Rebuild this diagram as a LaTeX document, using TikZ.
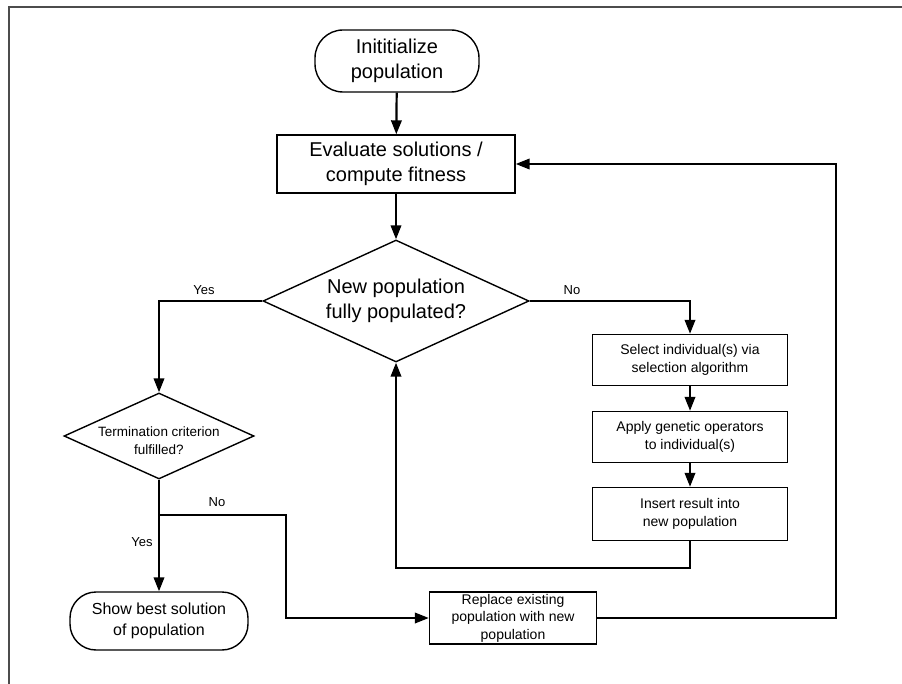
\documentclass[tikz,border=0pt]{standalone}
\usepackage{fontspec}
\setmainfont{Liberation Sans}
\usetikzlibrary{shapes.geometric,arrows.meta}
\tikzset{
  box/.style={draw=black, line width=1.4pt, rectangle, inner sep=0pt, align=center},
  term/.style={box, rounded corners=28pt},
  dia/.style={draw=black, line width=1.4pt, diamond, inner sep=0pt},
  lbl/.style={inner sep=0pt, align=center},
  conn/.style={draw=black, line width=2.2pt},
  arr/.style={conn, -{Triangle[length=14pt,width=10.5pt]}},
  big/.style={font=\fontsize{20}{25.5}\selectfont},
  mid/.style={font=\fontsize{16}{21}\selectfont},
  small/.style={font=\fontsize{14}{18}\selectfont},
  tiny/.style={font=\fontsize{13.5}{18}\selectfont},
  tag/.style={inner sep=0pt, font=\fontsize{13}{14}\selectfont}
}
\begin{document}
\begin{tikzpicture}[x=1pt,y=-1pt]
  \useasboundingbox (0,0) rectangle (902,684);
  % frame
  \draw[line width=1.5pt, color=black!70] (902,7) -- (9,7) -- (9,684);

  % boxes
  \node[term, big, minimum width=164pt, minimum height=62pt] (init) at (397,61) {Inititialize\\population};
  \node[box, big, minimum width=238pt, minimum height=58pt] (eval) at (396,164) {Evaluate solutions /\\compute fitness};
  \node[dia, minimum width=266pt, minimum height=122pt,
        label={[lbl,big]center:{New population\\fully populated?}}] (full) at (396,301) {};
  \node[dia, minimum width=190pt, minimum height=86pt,
        label={[lbl,tiny,yshift=-5pt]center:{Termination criterion\\fulfilled?}}] (done) at (159,436) {};
  \node[term, mid, minimum width=178pt, minimum height=58pt, rounded corners=26pt] (best) at (159,621) {Show best solution\\of population};
  \node[box, small, minimum width=195pt, minimum height=51pt] (sel) at (690,360) {Select individual(s) via\\selection algorithm};
  \node[box, small, minimum width=195pt, minimum height=51pt] (app) at (690,437) {Apply genetic operators\\to individual(s)};
  \node[box, small, minimum width=195pt, minimum height=53pt] (ins) at (690,514) {Insert result into\\new population};
  \node[box, font=\fontsize{14}{17.5}\selectfont, minimum width=167pt, minimum height=52pt] (rep) at (513,618) {Replace existing\\population with new\\population};

  % bends
  \coordinate (split) at (159,515);

  % connectors
  \draw[arr] (init) -- (eval);
  \draw[arr] (eval) -- (full);
  \draw[arr] (full.east) -| (sel.north);
  \draw[arr] (sel) -- (app);
  \draw[arr] (app) -- (ins);
  \draw[arr] (ins.south) -- ++(0,27) -| (full.south);
  \draw[arr] (full.west) -| (done.north);
  \draw[arr] (done.south) -- (best.north);
  \draw[arr] (split) -- (286,515) |- (rep.west);
  \draw[arr] (rep.east) -- (836,618) |- (eval.east);

  % branch tags
  \node[tag] (tagno1) at (572,290) {No};
  \node[tag] (tagyes1) at (204,290) {Yes};
  \node[tag] (tagno2) at (217,502) {No};
  \node[tag] (tagyes2) at (142,542) {Yes};
\end{tikzpicture}
\end{document}
